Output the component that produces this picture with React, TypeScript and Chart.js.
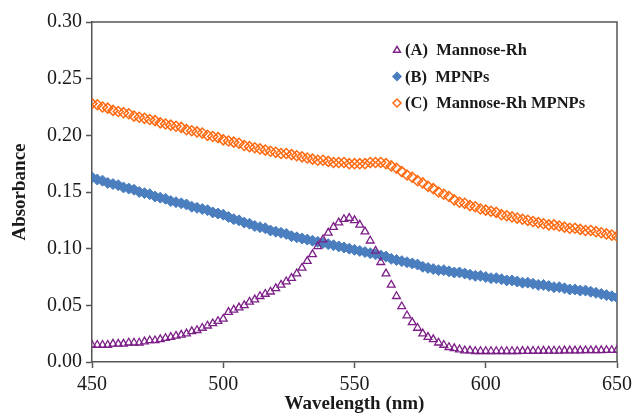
import React, { useEffect, useRef } from "react";
import { Chart, registerables } from "chart.js";

Chart.register(...registerables);

// Wavelength (nm) sampled every 2 nm
const wavelengths = [
  450, 452, 454, 456, 458, 460, 462, 464, 466, 468,
  470, 472, 474, 476, 478, 480, 482, 484, 486, 488,
  490, 492, 494, 496, 498, 500, 502, 504, 506, 508,
  510, 512, 514, 516, 518, 520, 522, 524, 526, 528,
  530, 532, 534, 536, 538, 540, 542, 544, 546, 548,
  550, 552, 554, 556, 558, 560, 562, 564, 566, 568,
  570, 572, 574, 576, 578, 580, 582, 584, 586, 588,
  590, 592, 594, 596, 598, 600, 602, 604, 606, 608,
  610, 612, 614, 616, 618, 620, 622, 624, 626, 628,
  630, 632, 634, 636, 638, 640, 642, 644, 646, 648,
  650,
];

// (A) Mannose-Rh
const mannoseRh = [
  0.015, 0.015, 0.015, 0.015, 0.016, 0.016, 0.016, 0.017, 0.017, 0.017,
  0.018, 0.019, 0.019, 0.020, 0.021, 0.022, 0.023, 0.024, 0.025, 0.027,
  0.028, 0.030, 0.032, 0.034, 0.036, 0.038, 0.044, 0.046, 0.048, 0.050,
  0.053, 0.055, 0.058, 0.060, 0.062, 0.065, 0.068, 0.071, 0.074, 0.078,
  0.083, 0.089, 0.095, 0.102, 0.108, 0.114, 0.119, 0.123, 0.126, 0.127,
  0.125, 0.121, 0.115, 0.107, 0.098, 0.088, 0.078, 0.068, 0.058, 0.049,
  0.041, 0.035, 0.030, 0.025, 0.022, 0.020, 0.017, 0.015, 0.013, 0.012,
  0.011, 0.010, 0.010, 0.0095, 0.0095, 0.0095, 0.0095, 0.0095, 0.0095, 0.0095,
  0.0095, 0.0095, 0.0096, 0.0096, 0.0097, 0.0097, 0.0098, 0.0098, 0.0099, 0.0099,
  0.0100, 0.0100, 0.0101, 0.0101, 0.0102, 0.0102, 0.0103, 0.0103, 0.0104, 0.0104,
  0.0105,
];

// (B) MPNPs
const mpnps = [
  0.163, 0.161, 0.160, 0.158, 0.157, 0.156, 0.154, 0.153, 0.152, 0.150,
  0.149, 0.148, 0.146, 0.145, 0.144, 0.142, 0.141, 0.140, 0.139, 0.137,
  0.136, 0.135, 0.134, 0.132, 0.131, 0.130, 0.128, 0.126, 0.125, 0.123,
  0.122, 0.120, 0.119, 0.118, 0.116, 0.115, 0.114, 0.113, 0.111, 0.110,
  0.109, 0.108, 0.107, 0.106, 0.105, 0.104, 0.103, 0.102, 0.101, 0.100,
  0.099, 0.098, 0.097, 0.096, 0.095, 0.094, 0.093, 0.091, 0.090, 0.089,
  0.088, 0.087, 0.086, 0.084, 0.083, 0.082, 0.081, 0.081, 0.080, 0.079,
  0.079, 0.078, 0.077, 0.076, 0.076, 0.075, 0.074, 0.074, 0.073, 0.072,
  0.072, 0.071, 0.070, 0.070, 0.069, 0.068, 0.068, 0.067, 0.066, 0.066,
  0.065, 0.064, 0.064, 0.063, 0.063, 0.062, 0.061, 0.060, 0.059, 0.058,
  0.057,
];

// (C) Mannose-Rh MPNPs
const mannoseRhMpnps = [
  0.228, 0.227, 0.225, 0.224, 0.222, 0.221, 0.220, 0.219, 0.217, 0.216,
  0.215, 0.214, 0.213, 0.211, 0.210, 0.209, 0.208, 0.207, 0.205, 0.204,
  0.203, 0.202, 0.200, 0.199, 0.198, 0.196, 0.195, 0.194, 0.193, 0.191,
  0.190, 0.189, 0.188, 0.187, 0.186, 0.185, 0.184, 0.184, 0.183, 0.182,
  0.181, 0.180, 0.179, 0.178, 0.178, 0.177, 0.176, 0.176, 0.176, 0.175,
  0.175, 0.175, 0.175, 0.176, 0.176, 0.176, 0.175, 0.173, 0.171, 0.168,
  0.165, 0.163, 0.160, 0.158, 0.155, 0.153, 0.150, 0.148, 0.146, 0.143,
  0.141, 0.140, 0.138, 0.137, 0.135, 0.134, 0.133, 0.132, 0.130, 0.129,
  0.128, 0.127, 0.126, 0.125, 0.124, 0.123, 0.122, 0.121, 0.121, 0.120,
  0.119, 0.118, 0.118, 0.117, 0.116, 0.116, 0.115, 0.114, 0.113, 0.112,
  0.111,
];

const seriesLabels = ["(A)  Mannose-Rh", "(B)  MPNPs", "(C)  Mannose-Rh MPNPs"];
const xTicks = [450, 500, 550, 600, 650];
const yTicks = [0, 0.05, 0.1, 0.15, 0.2, 0.25, 0.3];

const PURPLE = "#7d1f88";
const BLUE = "#4a7ebf";
const ORANGE = "#ff6a10";
const AXIS = "#555555";
const TEXT = "#1a1a1a";
const SERIF = "'Liberation Serif', 'Times New Roman', serif";

const toPoints = (ys: number[]) => wavelengths.map((x, i) => ({ x, y: ys[i] }));

const framePlugin = {
  id: "frame",
  beforeDatasetsDraw(chart: any) {
    const { ctx, chartArea } = chart;
    ctx.save();
    ctx.strokeStyle = AXIS;
    ctx.lineWidth = 1.5;
    ctx.beginPath();
    ctx.moveTo(chartArea.left, chartArea.top);
    ctx.lineTo(chartArea.right, chartArea.top);
    ctx.lineTo(chartArea.right, chartArea.bottom);
    ctx.stroke();
    ctx.restore();
  },
};

const legendPlugin = {
  id: "insideLegend",
  afterDraw(chart: any) {
    const { ctx, chartArea } = chart;
    const datasets = chart.data.datasets;
    const x0 = chartArea.left + 305;
    const y0 = chartArea.top + 28;
    const rowH = 26.5;
    ctx.save();
    datasets.forEach((ds: any, i: number) => {
      const cy = y0 + i * rowH;
      const mx = x0;
      ctx.lineWidth = 1.5;
      ctx.strokeStyle = ds.borderColor;
      ctx.fillStyle = ds.backgroundColor;
      ctx.beginPath();
      if (ds.pointStyle === "triangle") {
        const r = 3.6;
        ctx.moveTo(mx, cy - r);
        ctx.lineTo(mx + r * 0.95, cy + r * 0.6);
        ctx.lineTo(mx - r * 0.95, cy + r * 0.6);
        ctx.closePath();
      } else {
        const r = 4;
        ctx.moveTo(mx, cy - r);
        ctx.lineTo(mx + r, cy);
        ctx.lineTo(mx, cy + r);
        ctx.lineTo(mx - r, cy);
        ctx.closePath();
      }
      ctx.fill();
      ctx.stroke();
      ctx.fillStyle = TEXT;
      ctx.font = `bold 16.5px ${SERIF}`;
      ctx.textBaseline = "middle";
      ctx.textAlign = "left";
      ctx.fillText(ds.label, mx + 8, cy + 1);
    });
    ctx.restore();
  },
};

export default function App() {
  const canvasRef = useRef<HTMLCanvasElement | null>(null);

  useEffect(() => {
    document.body.style.margin = "0";
    const canvas = canvasRef.current;
    if (!canvas) return;
    const chart = new Chart(canvas, {
      type: "scatter",
      data: {
        datasets: [
          {
            label: seriesLabels[0],
            data: toPoints(mannoseRh),
            pointStyle: "triangle",
            pointRadius: 4.5,
            pointBorderWidth: 1.3,
            borderColor: PURPLE,
            backgroundColor: "rgba(255,255,255,0)",
            showLine: false,
          },
          {
            label: seriesLabels[1],
            data: toPoints(mpnps),
            pointStyle: "rectRot",
            pointRadius: 5.5,
            pointBorderWidth: 1,
            borderColor: BLUE,
            backgroundColor: BLUE,
            showLine: false,
          },
          {
            label: seriesLabels[2],
            data: toPoints(mannoseRhMpnps),
            pointStyle: "rectRot",
            pointRadius: 5,
            pointBorderWidth: 1.5,
            borderColor: ORANGE,
            backgroundColor: "rgba(255,255,255,0)",
            showLine: false,
          },
        ],
      },
      options: {
        responsive: false,
        animation: false,
        layout: { padding: { top: 22, right: 17, left: 0, bottom: 0 } },
        plugins: {
          legend: { display: false },
          tooltip: { enabled: false },
        },
        scales: {
          x: {
            type: "linear",
            min: xTicks[0],
            max: xTicks[xTicks.length - 1],
            afterBuildTicks: (axis: any) => {
              axis.ticks = xTicks.map((v) => ({ value: v }));
            },
            afterFit: (axis: any) => {
              axis.height = 54;
              axis.paddingLeft = 0;
              axis.paddingRight = 0;
            },
            grid: {
              drawOnChartArea: false,
              drawTicks: true,
              tickLength: 6,
              tickColor: AXIS,
              tickWidth: 1.5,
            },
            border: { color: AXIS, width: 1.5 },
            ticks: {
              padding: 5,
              color: TEXT,
              font: { family: SERIF, size: 20 },
              maxRotation: 0,
              callback: (v: any) => String(v),
            },
            title: {
              display: true,
              text: "Wavelength (nm)",
              color: TEXT,
              font: { family: SERIF, size: 19, weight: "bold" },
              padding: { top: 0, bottom: 1 },
            },
          },
          y: {
            type: "linear",
            min: yTicks[0],
            max: yTicks[yTicks.length - 1],
            afterBuildTicks: (axis: any) => {
              axis.ticks = yTicks.map((v) => ({ value: v }));
            },
            afterFit: (axis: any) => {
              axis.width = 92;
              axis.paddingTop = 0;
              axis.paddingBottom = 0;
            },
            grid: {
              drawOnChartArea: false,
              drawTicks: true,
              tickLength: 6,
              tickColor: AXIS,
              tickWidth: 1.5,
            },
            border: { color: AXIS, width: 1.5 },
            ticks: {
              padding: 4,
              color: TEXT,
              font: { family: SERIF, size: 20 },
              callback: (v: any) => Number(v).toFixed(2),
            },
            title: {
              display: true,
              text: "Absorbance",
              color: TEXT,
              font: { family: SERIF, size: 19, weight: "bold" },
              padding: { top: 9, bottom: 0 },
            },
          },
        },
      },
      plugins: [framePlugin, legendPlugin],
    });
    return () => chart.destroy();
  }, []);

  return (
    <div style={{ width: 634, height: 416, background: "#ffffff" }}>
      <canvas ref={canvasRef} width={634} height={416} style={{ display: "block" }} />
    </div>
  );
}
